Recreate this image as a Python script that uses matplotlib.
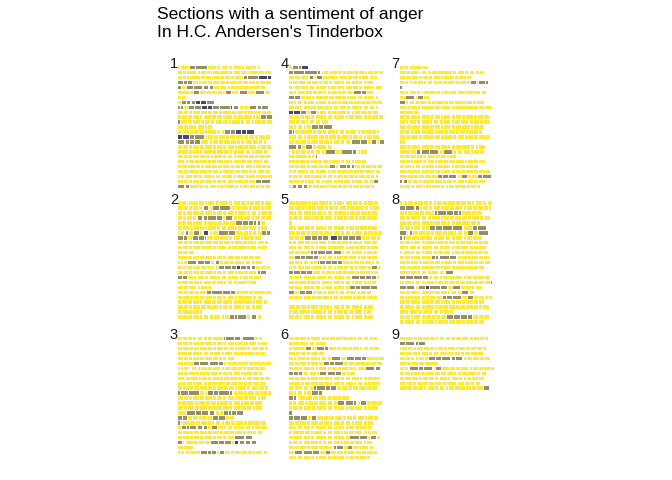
import matplotlib.pyplot as plt

plt.rcParams["font.family"] = ["Liberation Sans", "DejaVu Sans"]

title_lines = ["Sections with a sentiment of anger", "In H.C. Andersen's Tinderbox"]
panel_labels = ["1", "2", "3", "4", "5", "6", "7", "8", "9"]

# one string per printed line of the section, one token per word:
# the number is the word length, suffix o = some anger, d = strong anger
rows_1 = [
    "1 7 4o 9o 6 3 5 3 6 2 5 3 2",
    "3 2 8 2 4 2 1 5 6 3 5 4 2 6 4 5",
    "3 2 2 8 3 4 1 4 3 4 2 5 1 2o 8o 7d 2d",
    "4o 2o 3o 4 2 4 3 5 4 2 6 3 4 5 2 4 4",
    "2o 3 5o 7o 4o 3o 4 5 2 3 6 4 2 5 3",
    "9 2 4o 5 3 4 3 2 4o 5 6o 6 6o 4",
    "2 3",
    "2 3o 3o 3o 3d 4d 6o",
    "1o 2o 3 4o 5o 4d 3d 5o 8o 1d 4o 3 4 5o 3o 5o",
    "4 3 2 6 5 3 4 2 7 3 5 2 4 6 3 3",
    "2 4 3 5 2 6 3 4 2 5 3 4 6 2 3 4o 4o",
    "1o 5 3 6 2 4 3 5 4 2 6 3 4 2 5 3 4",
    "4 3 3 2 5 2 3",
    "3 5 2 4 3 2 6 3 2 4o 3o 4d 3d 6d",
    "3d 5d 3o 7o 2 4 3 5 2 4 6 3 4 2 5 3",
    "5o 3o 3o 4o 6 2 4 3 5 4 2 3 5 4 3 2",
    "3 4 2 5 3 6 2 4 3 5 2 4 3 6 2 4 3",
    "2 5 3 4 2 6 3 5 4 2 3 5 4 2 6 3",
    "4 2 3 5 4 3 2 6 3 4 2 5 3 4 2 5 3",
    "5 2 4 3 6 2 3 5 4 2 6 3 4 5 2 4",
    "2 4 6 3 2 5 4 3 6 2 4 3 5 2 4 3 2",
    "4 3 5 2 6 3 4 2 5 3 4 6 2 3 5 4",
    "1 3 5 4 3 6 2 4 3 5 2 6 3 4 2 6 3",
    "4 3 2 5 3 6 2 4 3 5 2 4 3 5 4o 6o",
    "5o 3o 6 4 3 5 2 4 6 3 2 5 4 3 2 4",
]

rows_2 = [
    "2 3 1 3 3 4 2 5 3 6 3 5 4 2 3 4 2 5",
    "4 3 2 4 3 4o 2 5o 8o 3 4 5 2 6 3 4",
    "3 2 4 5 3 6 2 4 3 5 2 6 3 4 2 5 3",
    "3 2 4 3 4o 3o 6o 4o 2 5o 3 4 5 2 4 3 4",
    "2 3 4 2 5 3 4 2 3 5 4 5o 4o 3o 2o 2o 3",
    "3 5 2 4 3 2 6 3 4 5 2 3 4 6 2 5",
    "1 3 2o 3 4o 2 4d 2 4 7o 5o 4 1 3 2 3 3 3o 2o",
    "4o 2o 3 4o 4o 1o 5 4 6 3 5 2 4 3 5",
    "4 3 2 5 3 6 4 3 5 2 6 3 4 2 5 3",
    "3 4 2 6 3 5 2 8 3 4 6 2 5 3 4",
    "3 4 4",
    "2 4 3 5 3 6 2 4 3 5 4 2 3 4 4",
    "1 2 2 7o 5o 4o 3 3o 2 4 3 5 2 4 3 5",
    "3 2 4 2 3 4 3 2 2 4o 5o 3o 2d 4o 3o 3o 3 4 2",
    "4 3 2 5 3 6 2 4 3 5 2 4 3 6 2o 4o",
    "3o 3o 4 2 5 3 6 2 4 3 5 2 4 3 6",
    "2 5 3 4 2 6 3 5 2 4 3 6 2 5",
    "4 3 6 2 5 2",
    "4 3 4 3 5 3o 8o 6o 3o 4 5 3 6 2 4",
    "3 5 2 4 3 6 2 4 3 5 2 4 6 3 4",
    "2 4 3 5 2 6 3 4 5 2 3 4 6 2 5 3",
    "4 3 2 6 4 3 5 2 4 3 6 2 4 3 5",
    "3 5 2 4 2",
    "2 4 3 5 2 4 3 5 2 3 3o 2o 6o 3 4o 3",
]

rows_3 = [
    "3 3 3 3 4 3 3 8 1o 6o 4o 1 9o 2 3",
    "3 4 2 5 3 6 2 4 3 5 2 4 3 6 2 5",
    "3 5 2 4 6 3 2 5 3 4 2 6 3 5 4 3",
    "2 4 3 5 2 4 3 5 2 6 3 4 2 5 3 4",
    "4 3 2 5 3 6 4 2 3 5",
    "4 2 4 4o 7o 7o 3o 2 3 4 2 5 3 6 2 4",
    "1 2 3 1 4 2 5 3 6 2 4 5 3 2 6 3 4",
    "4 3 5 2 4 3 6 2 4 3 5 2 6 4 3",
    "5 3 6 2 4 3 5 2 4 6 3 2 4 5 3 4",
    "2 3 4 2 5 3 2 4 6 3 5 4 2 3 5 4",
    "3 5 2 4 6 3 2 5 3 4 2 6 3 5 4 3",
    "1o 6o 8o 3 2 4o 3o 8o 2o 3 4 2 5 3 6 2",
    "4 3 2 5 3 6 2 4 3 5 2 4 3 6 2 4",
    "2 3 6 2 5 3 4 2 6 3 5 2 4 3 6",
    "4 2 5 3 6 2 4 3 5 2 6 3 4 2 5",
    "6 7o 4o 5o 4o 3 2 3o 2o 3o 5o",
    "3o 3o 3 4 2 4 3 4o 5o 2 3",
    "1o 1 5 4 3 5 2 2 4 2 4 3 6 2 4 5 4",
    "2 3o 2o 5o 4o 3o 2 4o 1 5 4 3 5 4 2 5 4",
    "3 5 2 4 6 3 5 2 4 3 6 2 4 3 4",
    "3 5 2 4 3 6 2 4 3 5 8o 5o",
    "3o 1 6 3 4 4 6o 4o 5o 1 3d 4o 4o 4o",
    "4 7",
    "1 3 3 4 3 5o 2o 3o 2 3o 4 2 5 4 3 2 5 3",
]

rows_4 = [
    "2 4o 2o 5d",
    "3o 8o 10o 2o 1 3 2 4 3 2 5 3 4 2 4 3 3",
    "4 4 3 2 3o 1 4o 5 4 2 6 3 4 2 5 3 2",
    "2 4 6 3 5 2 4 3 6 2 4 5 3 2 5",
    "2 1 4 3 2 4 3 5 2 4 3 2 5 4 3 6 2 5",
    "3 2 6 5 3 4 2 3 4 2 3 5 6o 3o 5",
    "4o 4o 3 4 2 6 3 4 5 3 2 5 4 3 5 2",
    "3 2 4 3 5 2 6 3 4 2 5 3 6 2 4 4 3",
    "4 3 2 5 4 6 3 2 4 5 3 6 2 4 4 2",
    "3d 5d 4o 2 4o 2 5 3 4 6 3 2 4 5 3 4",
    "3 5 2 4 3 6 2 4 3 5 2 4 6 3 2 5 3",
    "5 3 3 2 4 4 5",
    "3 2 4 2 3 5o 3o 7o",
    "2o 1o 4 3 5 2 4 3 6 2 4 3 5 2 3 4 3 2",
    "6 4 2 5 3 4 2 6 3 5 2 4 3 2 4 5",
    "4 3 5 2 6 3 4 2 5 3 4 7o 5o 2 3o 2 3o",
    "6o 3o 2 5o 2 8 3",
    "1 3 3 4 2 3 4 3 7o 4 8o 3o 2 5",
    "5 9 2 2 1o",
    "5 2 4 3 5 3 4 2 6 3 4 2 5 3",
    "4 3 5 2 6 3 4 4o 2 5o 3o 2o 4 3 5 2 4",
    "2 3 6 2 4 3 5 2 4 3 6 2 4 3 5 2 4",
    "2 4 3 5 2 6 3 4 2 5 3 4 2 5 3 3 2",
    "3 4 3 2 5 4 2 6 3 4 5 2 6 4 3 3o",
    "2 3o 4o 3o 3 5 4 2 6 3 4 2 5 3 4 3",
]

rows_5 = [
    "5 2 6 2 1 3 5 1 3 2 4 1 5 4 3 3 4 3",
    "4 5 2 4 3 6 2 4 3 5 2 4 6 3 2 5",
    "3 2 4 6 3 5 2 4 3 6 2 4 3 5 2 4",
    "2 4 3 5 2 4 3 6 2 5 3 4 2 6 3 4",
    "2",
    "3 2 5 4 3 6 2 4 3 5 2 4 3 6 2 4",
    "5 3 4 2 6 3 4 2 5 3 4 2 6 3 4 2 3",
    "4 3 3 5o 4o 3o 4o 1 5d 3o 4o 5o 4o 2 3 4 3",
    "2 3 5 4 2 3 6 2 4 3 5 2 4 3 6 4",
    "3 2 4 5 3 2 6 3 4 5 2 4 3 5 2 6",
    "4 3 4 3 2o 2o 6o 5o 6o 2 4 3 5 2 4 3",
    "4 4o 3o 6o 3o 2 3 4 2 5 3 6 2 4 3 4",
    "4 3 2 4 3 2 1o 4o 4o 4o 3o 5 2 4 3 5 2 3",
    "2 3 5 4 2 6 3 4 2 5 3 4 2 6 3 4o 2",
    "3o 5o 4o 4o 6 3 4 2 5 3 6 2 4 3 2 3",
    "3 4 2 6 3 5 2 4 3 5 4 6o 4o 4o 3o 2",
    "4 3 5 2 4 3 6 2 5 3 4 2 6 3 2 3",
    "4 3 2 5 3 4 2 6 3 5 3 4o 3o 7o 5o",
    "4o 3 4o 5o 2 4 3 6 2 4 3 5 2 4 3",
    "3 4 2 6 3 4 5 2 4 3 6 2 4 3 5 2",
    "",
    "5 3 4 2 6 3 4 2 5 3 4 6 2 3 4",
    "2 4 5 3 2 6 3 4 2 5 3 4 6 2 3",
    "4 3 2 5 3 6 2 4 3 5 4 2 6 3 4",
]

rows_6 = [
    "4 3 5 2 8 3 2 4 5 3 4 2 4 4 3 2",
    "3 4 4 2 4 3 5",
    "2 10 4o 3 6o 2o 6 3 4 3 5 2 4 3 4",
    "5 3 4 2 6 4",
    "3 2 6 3 5 2 4 3 6o 4 6o 5o 3o 5 3 4",
    "4 3 5 2 6 3 4o 3o 7o 3 4 5 2 4 3 4",
    "3 4 2 5 3 2 6 3 4 2 5 3 2 6 7o 4o",
    "3o 3o 3o 4 5 2 5o 6o 4o 3 2 4",
    "4 3 5 2 6 3 4 2 5 3 4 6 2 3 4 5",
    "3 5 2 4 6 3 4 2 5 3 6 2 4 3 2 4 2",
    "4 3 2 4 3 1o 7o 3o 4o 3 5 2 4 6 3 4",
    "3 2 4 2 3 5o 2o",
    "3o 2o 1 4 5 4 6 3 4 2 6",
    "2 3 5 2 4 3 6 4 3 5o 6o 2o 2 4o 3 4 3",
    "2 4 3 6 3 5 2 4 3 5 2 4 6 3 2 5",
    "2o",
    "3o 5o 5o 2 3o 5 4 3 6 2 4 3 5 2 4 3",
    "4 3 5 2 6 3 4 2 5 3 4 2 6 3 4",
    "3 2 4 5 3 6 2 4 3 5 2 4 3 6 2",
    "2 5 3 4 2 6 3 4 5 2 3 4 6 3 2 4",
    "3 4 2 5 3 6 2 4 3 5 3 7o 6o 1 4o 3",
    "2 4 3 5 6 2 3 4 5 2 4 3 6 2 4",
    "4 3 5 2 6 3 4 2 2o 5o 2 3o 4 2 5 3",
    "4 6o 7o 5o 4 3o 4 5 2 6 4 3 5 2",
    "3 2 4 5 3 2 6 3 4 5 2 4 3 5 2",
]

rows_7 = [
    "3 3 3 6 4",
    "5 2 6 1 4 3 4 11 3 5 3 4 3 3",
    "4 4 5 2 4 3 5 2 4 3 2 6 3",
    "3 3 2 3 4 2 4 3 3 3 5 4 4 2 4o 1 5o 1o",
    "2o",
    "4 2 5 3 1 4 4 3 2 4 5 6 1 4 5 4",
    "4 7o 1 4o 4",
    "4o 2 4 3 5 3 2 6 3 4 5 3 4 2 6",
    "5 3 4 2 6 3 4 2 5 3 4 2 6 3 4 5",
    "4 6 4",
    "4 3 5 2 6 3 4 2 5 3 4 2 6 2 5 3",
    "4 2 5 3 6 2 4 3 5 2 4 6 3 4 2 5",
    "5 3 4 2 6 3 4 2 5 3 4 6 2 4 3",
    "3 4 2 5 3 6 2 4 3 5 2 4 6 3 2",
    "4 3 6 2 5 3 4 2 6 3 5 2 4 3 5 3",
    "4",
    "5 3 4 2 6 3 4 5 2 3 4 6 3 2 5",
    "4 3 4 3o 6o 7o 3 6o 3 4 5 2 4 3",
    "3 4 4 5 2 6 3 4 2 5",
    "4 3 2 6 3 5 2 4 3 5 6 2 4 3 5",
    "3 5 2 4 3 6 2 4 5 2 3 4 6 3",
    "5 3 4 2 6 3 4 2 5 3 4 2 6 3 5 3",
    "6 4 3 4 5 4 3o 4o 6o 3 4o 2 4 3o 7o",
    "2o 3o 3 4 2 5 3 6 2 4 3 5 2 4 3 5",
    "3 4 3 5 2 4 6 3 2 4 3 5 2 4 3",
]

rows_8 = [
    "2 3 4 2 4 3 3 2 4 3 6 3 4 3 2 5 3 4",
    "4o 7o 3o 1 4 3 5 2 4 3 6 2 4 3 4 3 2",
    "3 2 4 4 3 5 1 2o 6o 5o 3o 2o 7 4 3",
    "4 3 5 2 4 3 6 2 4 3 5 4 2 6 3 4",
    "5 4 3 2 6 3 4 5 2 3 4 6 4 3",
    "3 4 2 5 3 2 4o 5o 7o 8o 7 3o 7o",
    "5o 1 2o 4 5 3 2 6 3 4 2 4 3 4o 3 7o",
    "2o 1o 4 6 4 5 3 5 4 3 5 2 4 3 3",
    "3 4 2 5 3 6 2 4 3 5 2 4 6 3 2 4",
    "4 2 5 3 6 2 4 3 5 2 4 6 3 4 5",
    "2 5 3 4 2 6 3 4 5 2 4 3 6 2 3 4",
    "3 4 2 5 3 4 2o 2o 8o 5o 3 4 2 5 3 4",
    "4 3 6 2 5 3 4 2 6 3 5 2 4 3 4 4",
    "5 3 4 2 6 3 4 2 5 3 4 2 6 3 4",
    "4 3 5 2 4 3 5 4 6o",
    "4o 6o 6o 4o 3 4 2 5 3 6 2 4 3 5 4",
    "3 5 2 4 3 6 2 4 3 5 2 4 6 3 4 4 1o",
    "5o 6o 2 5o 2d 8o 5o 3 6o 3 4 2 5",
    "4 3 5 2 6 3 4 5 2 4 3 5o 4",
    "3 2 4 5 3 2 5 4 2o 4o 7o 4 4o 3 4 2 3",
    "4 3 5 2 6 3 4 2 5 3 4 2 6 3 4",
    "3 5 2 4 3 6 2 4 3 5 2 4 6 3 2 5",
    "4 2 6 3 5 2 4 3 4 2",
    "3 4 2 5 3 4 2 3 4 5o 5o 5o 3o 4 3 4",
    "3 5 2 4 3 6 2 4 3 5 4 2 6 3 4",
]

rows_9 = [
    "4 5 3 3 5 4 2 4 4 3 4 5 3 4 3 2",
    "4o 7o 2o 5o",
    "1 4 3 2 5 4 3 2 4 2 6 1 5 3 4 4 3",
    "4 5 3 2 5 3 4 5 6 4 2 4 5 4",
    "4 3 3 2 4 2 5o 4o 7o 3o 5o 2 4 5 3 4",
    "5 3 5 4 11",
    "3 3 7o 3o 7o 1 4o 6 4 3 6 2 4 3 5 2",
    "3 4 2 5 3 6 4 4 5 2 3 4 6 3 4",
    "3 5 5 2 4 4 3 6 2 5 3 2 3 5 4",
    "5 4 2 5 3 4 2 3 2 8 5 4 3 4",
    "4 5 3 4 2 5 3 4 2 4 3 4 4 3 5 4o",
]

panel_rows = [rows_1, rows_2, rows_3, rows_4, rows_5, rows_6, rows_7, rows_8, rows_9]

fill_colors = {"": "#FEE838", "o": "#968E66", "d": "#434A62"}


def parse_line(line):
    """Turn a row string into (start, length, anger code) for each word."""
    words = []
    pos = 0
    for tok in line.split():
        code = tok.lstrip("0123456789")
        n = int(tok[: len(tok) - len(code)])
        words.append((pos, n, code))
        pos += n + 1
    return words


W, H = 672, 480
fig = plt.figure(figsize=(W / 100, H / 100), dpi=100)

char_px = 1.2
line_px = 4.95
n_chars = 84
n_lines = 25

for k, (label, rows) in enumerate(zip(panel_labels, panel_rows)):
    col, row = k // 3, k % 3
    left = 178.3 + col * 110.85
    top = 65.2 + row * 135.5
    w = n_chars * char_px
    h = n_lines * line_px
    ax = fig.add_axes([left / W, 1 - (top + h) / H, w / W, h / H])
    for i, line in enumerate(rows, start=1):
        for start, n, code in parse_line(line):
            ax.barh(i, n, left=start, height=0.68, color=fill_colors[code],
                    linewidth=0)
    ax.set_xlim(0, n_chars)
    ax.set_ylim(n_lines + 0.5, 0.5)
    ax.axis("off")
    fig.text((left - 8.5) / W, 1 - (top + 2.9) / H, label, fontsize=10.5,
             ha="left", va="baseline", color="#1a1a1a")

fig.text(157 / W, 1 - 18.5 / H, title_lines[0], fontsize=12.5,
         ha="left", va="baseline", color="black")
fig.text(157 / W, 1 - 37 / H, title_lines[1], fontsize=12.5,
         ha="left", va="baseline", color="black")

fig.savefig("out.png", dpi=100)
